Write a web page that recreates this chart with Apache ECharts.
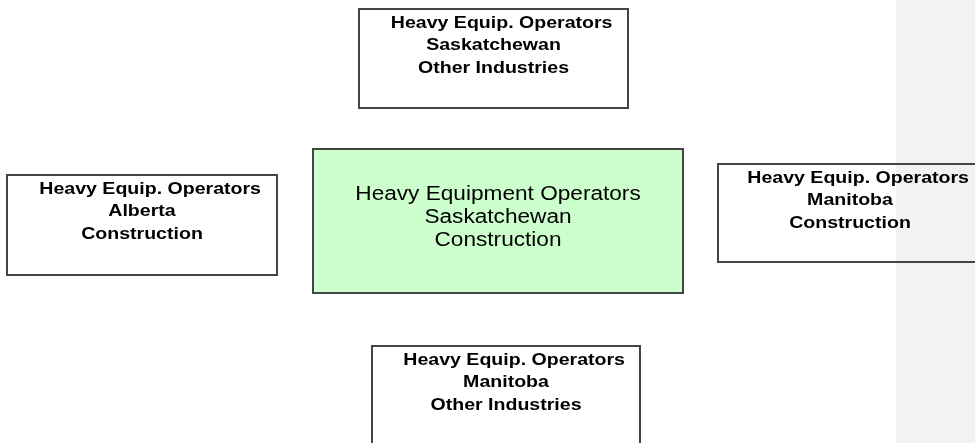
<!DOCTYPE html>
<html>
<head>
<meta charset="utf-8">
<script src="https://cdn.jsdelivr.net/npm/echarts@6/dist/echarts.min.js"></script>
<style>
  html, body { margin: 0; padding: 0; background: #fff; }
  #chart { width: 975px; height: 443px; }
</style>
</head>
<body>
<div id="chart"></div>
<script>
// box labels, one entry per box
const boxLabels = [
  '   Heavy Equip. Operators\nSaskatchewan\nOther Industries',
  '   Heavy Equip. Operators\nAlberta\nConstruction',
  'Heavy Equipment Operators\nSaskatchewan\nConstruction',
  '   Heavy Equip. Operators\nManitoba\nConstruction',
  '   Heavy Equip. Operators\nManitoba\nOther Industries'
]
const boxFocus = [false, false, true, false, false]

// box extents on the (hidden) diagram axes
const boxLeft = [359, 7, 313, 718, 372]
const boxTop = [9, 175, 149, 164, 346]
const boxRight = [628, 277, 683, 982, 640]
const boxBottom = [108, 275, 293, 262, 460]

// grey side panel on the right
const panelStart = 896
const panelEnd = 975

const chart = echarts.init(document.getElementById('chart'))

const boxData = boxLabels.map((_, i) => [boxLeft[i], boxTop[i], boxRight[i], boxBottom[i], i])

function renderBox(params, api) {
  const i = api.value(4)
  const p0 = api.coord([api.value(0), api.value(1)])
  const p1 = api.coord([api.value(2), api.value(3)])
  const focus = boxFocus[i]
  const cx = (p0[0] + p1[0]) / 2
  const text = focus
    ? {
        type: 'text',
        x: cx,
        y: (p0[1] + p1[1]) / 2 - 3,
        scaleX: 1.16,
        style: {
          text: boxLabels[i],
          fill: '#000',
          font: '19.5px "Liberation Sans", Arial, sans-serif',
          align: 'center',
          verticalAlign: 'middle',
          lineHeight: 23
        }
      }
    : {
        type: 'text',
        x: cx,
        y: p0[1] + 3,
        scaleX: 1.15,
        style: {
          text: boxLabels[i],
          fill: '#000',
          font: 'bold 17px "Liberation Sans", Arial, sans-serif',
          align: 'center',
          verticalAlign: 'top',
          lineHeight: 22.5
        }
      }
  return {
    type: 'group',
    children: [
      {
        type: 'rect',
        shape: { x: p0[0], y: p0[1], width: p1[0] - p0[0], height: p1[1] - p0[1] },
        style: { fill: focus ? '#ccffcc' : 'rgba(255,255,255,0)', stroke: '#444', lineWidth: 2 }
      },
      text
    ]
  }
}

function renderPanel(params, api) {
  const p0 = api.coord([api.value(0), 0])
  const p1 = api.coord([api.value(1), 443])
  return {
    type: 'rect',
    shape: { x: p0[0], y: p0[1], width: p1[0] - p0[0], height: p1[1] - p0[1] },
    style: { fill: '#f2f2f2' }
  }
}

chart.setOption({
  animation: false,
  grid: { left: 0, right: 0, top: 0, bottom: 0 },
  xAxis: { type: 'value', min: 0, max: 975, show: false },
  yAxis: { type: 'value', min: 0, max: 443, inverse: true, show: false },
  series: [
    {
      type: 'custom',
      name: 'panel',
      z: 1,
      silent: true,
      renderItem: renderPanel,
      data: [[panelStart, panelEnd]]
    },
    {
      type: 'custom',
      name: 'boxes',
      z: 2,
      silent: true,
      renderItem: renderBox,
      data: boxData
    }
  ]
})
</script>
</body>
</html>
